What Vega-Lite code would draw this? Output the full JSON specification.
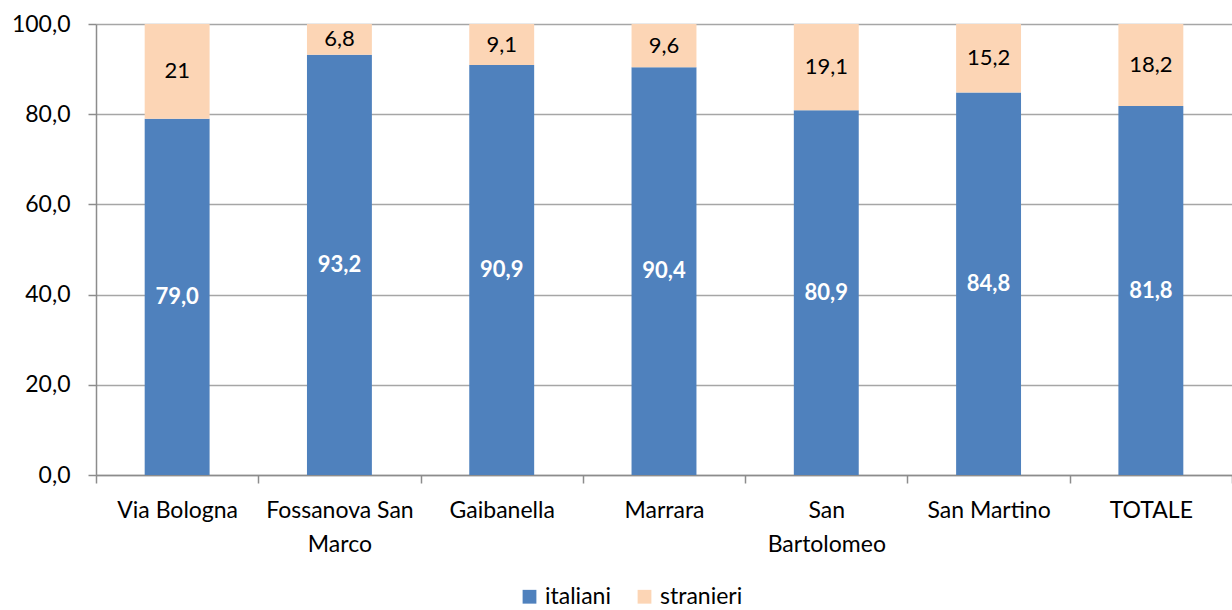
{
  "$schema": "https://vega.github.io/schema/vega-lite/v6.json",
  "width": 1136,
  "height": 451,
  "autosize": "none",
  "padding": {"left": 96, "top": 24, "right": 0, "bottom": 135},
  "background": "white",
  "config": {
    "font": "Lato",
    "view": {"stroke": null},
    "axis": {"labelFont": "Lato", "labelColor": "#000000", "labelFontSize": 23}
  },
  "data": {
    "values": [
      {"cat": "Via Bologna", "serie": "italiani", "ord": 1, "value": 79.0, "label": "79,0"},
      {"cat": "Via Bologna", "serie": "stranieri", "ord": 2, "value": 21.0, "label": "21"},
      {"cat": "Fossanova San|Marco", "serie": "italiani", "ord": 1, "value": 93.2, "label": "93,2"},
      {"cat": "Fossanova San|Marco", "serie": "stranieri", "ord": 2, "value": 6.8, "label": "6,8"},
      {"cat": "Gaibanella", "serie": "italiani", "ord": 1, "value": 90.9, "label": "90,9"},
      {"cat": "Gaibanella", "serie": "stranieri", "ord": 2, "value": 9.1, "label": "9,1"},
      {"cat": "Marrara", "serie": "italiani", "ord": 1, "value": 90.4, "label": "90,4"},
      {"cat": "Marrara", "serie": "stranieri", "ord": 2, "value": 9.6, "label": "9,6"},
      {"cat": "San|Bartolomeo", "serie": "italiani", "ord": 1, "value": 80.9, "label": "80,9"},
      {"cat": "San|Bartolomeo", "serie": "stranieri", "ord": 2, "value": 19.1, "label": "19,1"},
      {"cat": "San Martino", "serie": "italiani", "ord": 1, "value": 84.8, "label": "84,8"},
      {"cat": "San Martino", "serie": "stranieri", "ord": 2, "value": 15.2, "label": "15,2"},
      {"cat": "TOTALE", "serie": "italiani", "ord": 1, "value": 81.8, "label": "81,8"},
      {"cat": "TOTALE", "serie": "stranieri", "ord": 2, "value": 18.2, "label": "18,2"}
    ]
  },
  "transform": [
    {"stack": "value", "groupby": ["cat"], "sort": [{"field": "ord"}], "as": ["y0", "y1"]},
    {"calculate": "(datum.y0 + datum.y1) / 2", "as": "ymid"}
  ],
  "encoding": {
    "x": {
      "field": "cat",
      "type": "nominal",
      "sort": null,
      "scale": {"paddingInner": 0, "paddingOuter": 0},
      "axis": {
        "title": null,
        "labelAngle": 0,
        "labelExpr": "split(datum.label, '|')",
        "labelLineHeight": 34,
        "labelPadding": 16,
        "tickBand": "extent",
        "tickSize": 8,
        "tickColor": "#8c8c8c",
        "tickWidth": 1.5,
        "domainColor": "#8c8c8c",
        "domainWidth": 1.5,
        "grid": false
      }
    }
  },
  "layer": [
    {
      "mark": {"type": "bar", "width": {"band": 0.4}},
      "encoding": {
        "y": {
          "field": "y0",
          "type": "quantitative",
          "scale": {"domain": [0, 100], "nice": false},
          "axis": {
            "title": null,
            "values": [0, 20, 40, 60, 80, 100],
            "labelExpr": "replace(format(datum.value, '.1f'), '.', ',')",
            "tickSize": 8,
            "labelPadding": 18,
            "tickColor": "#8c8c8c",
            "tickWidth": 1.5,
            "domainColor": "#8c8c8c",
            "domainWidth": 1.5,
            "gridColor": "#a6a6a6",
            "gridWidth": 1.5
          }
        },
        "y2": {"field": "y1"},
        "color": {
          "field": "serie",
          "type": "nominal",
          "scale": {"domain": ["italiani", "stranieri"], "range": ["#4F81BD", "#FCD5B5"]},
          "legend": {
            "title": null,
            "orient": "none",
            "direction": "horizontal",
            "legendX": 422,
            "legendY": 561,
            "symbolType": "square",
            "symbolSize": 190,
            "symbolStrokeWidth": 0,
            "labelFontSize": 23,
            "labelFont": "Lato",
            "labelColor": "#000000",
            "columnPadding": 22,
            "labelOffset": 4
          }
        }
      }
    },
    {
      "transform": [{"filter": "datum.serie === 'italiani'"}],
      "mark": {"type": "text", "fontSize": 22, "fontWeight": "bold", "color": "#ffffff", "baseline": "middle", "align": "center"},
      "encoding": {
        "y": {"field": "ymid", "type": "quantitative"},
        "text": {"field": "label"}
      }
    },
    {
      "transform": [{"filter": "datum.serie === 'stranieri'"}],
      "mark": {"type": "text", "fontSize": 22, "color": "#000000", "baseline": "middle", "align": "center"},
      "encoding": {
        "y": {"field": "ymid", "type": "quantitative"},
        "text": {"field": "label"}
      }
    }
  ]
}
